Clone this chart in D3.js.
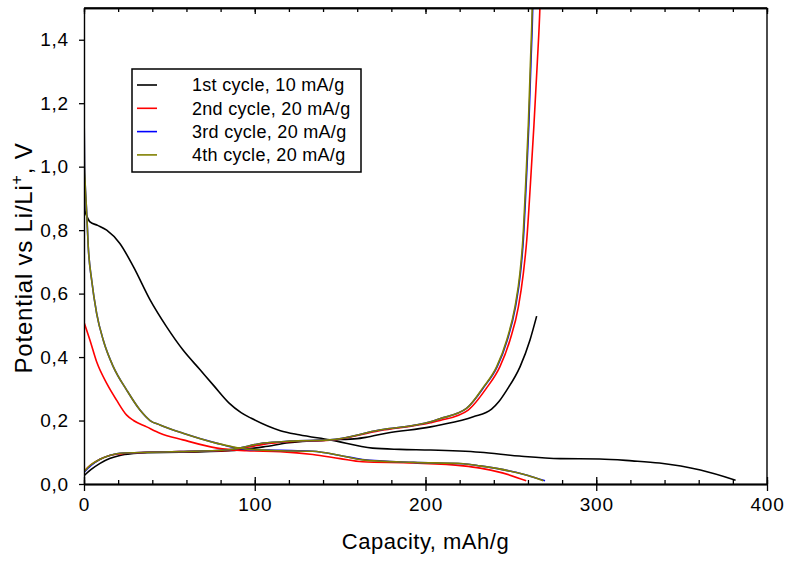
<!DOCTYPE html>
<html>
<head>
<meta charset="utf-8">
<script src="https://cdn.jsdelivr.net/npm/d3@7"></script>
<style>
  body { margin: 0; background: #fff; }
  text { font-family: Arial, "Liberation Sans", sans-serif; fill: #000; }
</style>
</head>
<body>
<svg id="chart" width="788" height="561"></svg>
<script>
// capacity (mAh/g), potential (V)
const cycle1Discharge = [[0,0.93],[0.6,0.86],[1.6,0.845],[3.5,0.826],[8,0.815],[13.3,0.8],[21,0.758],[29,0.684],[38.7,0.58],[48.4,0.495],[58,0.422],[68,0.36],[76,0.31],[85,0.255],[92,0.225],[98,0.207],[115,0.168],[126,0.155],[144,0.139],[169,0.113],[185,0.109],[203,0.107],[232,0.1],[255,0.088],[279,0.08],[302,0.079],[321,0.073],[337,0.066],[361,0.044],[381.6,0.012]];
const cycle1Charge = [[0,0.026],[4,0.045],[9.4,0.065],[15,0.08],[21,0.09],[29,0.096],[37,0.099],[56,0.1],[85,0.105],[105,0.117],[120,0.13],[144,0.139],[160,0.143],[165,0.147],[177,0.16],[203,0.18],[208.5,0.186],[228,0.212],[238.7,0.236],[243,0.26],[247.6,0.296],[255.4,0.37],[261.2,0.454],[265.1,0.529]];

const cycle2Discharge = [[0,0.51],[3.5,0.453],[7.4,0.385],[13.3,0.317],[19,0.265],[25,0.217],[29,0.2],[36.7,0.18],[44.5,0.16],[58,0.139],[78,0.113],[95,0.105],[115,0.102],[134,0.093],[150,0.08],[163,0.07],[193,0.066],[222,0.057],[232,0.05],[245,0.035],[259,0.01]];
const cycle2Charge = [[0,0.04],[4,0.06],[9.4,0.078],[15,0.09],[21,0.095],[37,0.1],[56,0.102],[85,0.106],[105,0.125],[120,0.133],[144,0.138],[173,0.168],[203,0.193],[208.5,0.2],[225,0.233],[235.7,0.302],[243.6,0.37],[249.5,0.454],[254.4,0.558],[257.3,0.664],[259.3,0.769],[261.5,0.95],[263.5,1.13],[265.5,1.33],[267,1.5],[267.3,1.55]];

const cycle3Discharge = [[0,1.21],[0.3,1.0],[0.6,0.955],[1.6,0.853],[2.5,0.747],[4.5,0.642],[7.4,0.538],[11.3,0.453],[17.2,0.369],[25,0.296],[32.8,0.233],[38.7,0.2],[44.5,0.186],[58,0.16],[78,0.128],[87,0.116],[95,0.109],[115,0.106],[134,0.103],[150,0.09],[163,0.077],[193,0.068],[222,0.064],[232,0.057],[250,0.04],[260,0.027],[270,0.01]];
const cycle3Charge = [[0,0.037],[4,0.058],[9.4,0.078],[15,0.09],[21,0.097],[37,0.1],[56,0.102],[85,0.108],[105,0.129],[120.6,0.135],[144,0.139],[173,0.17],[203,0.196],[208,0.205],[224,0.238],[234.3,0.306],[242,0.37],[247.9,0.454],[252.7,0.558],[255.6,0.664],[257.3,0.769],[259,0.95],[260.5,1.13],[261.7,1.32],[262.8,1.5],[263,1.55]];

const cycle4Discharge = [[0,1.21],[0.3,1.0],[0.6,0.957],[1.6,0.853],[2.5,0.747],[4.5,0.642],[7.4,0.538],[11.3,0.453],[17.2,0.369],[25,0.296],[32.8,0.233],[38.7,0.2],[44.5,0.186],[58,0.16],[78,0.128],[87,0.117],[95,0.11],[115,0.105],[134,0.103],[150,0.09],[163,0.076],[193,0.068],[222,0.064],[232,0.057],[250,0.04],[260,0.027],[269,0.01]];
const cycle4Charge = [[0,0.039],[4,0.06],[9.4,0.078],[15,0.09],[21,0.097],[37,0.1],[56,0.102],[85,0.108],[105,0.129],[120.6,0.135],[144,0.139],[173,0.17],[203,0.196],[208,0.205],[224,0.238],[234,0.306],[241.7,0.37],[247.6,0.454],[252.4,0.558],[255.3,0.664],[257,0.769],[258.7,0.95],[260.2,1.13],[261.4,1.32],[262.5,1.5],[262.7,1.55]];

const seriesNames = ["1st cycle, 10 mA/g", "2nd cycle, 20 mA/g", "3rd cycle, 20 mA/g", "4th cycle, 20 mA/g"];
const seriesColors = ["#000000", "#ff0000", "#0000ff", "#808000"];
const seriesCurves = [
  [cycle1Discharge, cycle1Charge],
  [cycle2Discharge, cycle2Charge],
  [cycle3Discharge, cycle3Charge],
  [cycle4Discharge, cycle4Charge]
];
const xTicks = [0, 100, 200, 300, 400];
const yTicks = [0, 0.2, 0.4, 0.6, 0.8, 1.0, 1.2, 1.4];

const svg = d3.select("#chart");
const plotLeft = 84, plotRight = 767, plotTop = 8, plotBottom = 484;

const x = d3.scaleLinear().domain([0, 400]).range([plotLeft, plotRight]);
const y = d3.scaleLinear().domain([0, 1.5]).range([plotBottom, plotTop]);
const minorX = d3.range(0, 401, 20);

svg.append("clipPath").attr("id", "plot-clip")
  .append("rect").attr("x", plotLeft).attr("y", plotTop)
  .attr("width", plotRight - plotLeft).attr("height", plotBottom - plotTop);

// curves
const line = d3.line().x(d => x(d[0])).y(d => y(d[1])).curve(d3.curveMonotoneX);
const curves = svg.append("g").attr("clip-path", "url(#plot-clip)");
seriesCurves.forEach((pair, i) => {
  pair.forEach(data => {
    curves.append("path")
      .datum(data)
      .attr("d", line)
      .attr("fill", "none")
      .attr("stroke", seriesColors[i])
      .attr("stroke-width", 1.6)
      .attr("stroke-linejoin", "round");
  });
});

// frame
svg.append("line").attr("x1", plotLeft).attr("x2", plotRight).attr("y1", plotTop).attr("y2", plotTop)
  .attr("stroke", "#000").attr("stroke-width", 1.4);
svg.append("line").attr("x1", plotRight).attr("x2", plotRight).attr("y1", plotTop).attr("y2", plotBottom)
  .attr("stroke", "#000").attr("stroke-width", 1.4);

function styleAxis(g) {
  g.select(".domain").attr("stroke-width", 1.4);
  g.selectAll(".tick line").attr("stroke-width", 1.3);
}

function styleLabels(g) {
  g.selectAll("text")
    .attr("font-size", 19)
    .attr("letter-spacing", 0.8)
    .attr("font-family", "Arial, 'Liberation Sans', sans-serif");
}

// bottom axis: minor inside, major both sides
svg.append("g").attr("transform", `translate(0,${plotBottom})`)
  .call(d3.axisBottom(x).tickValues(minorX).tickSize(-4).tickSizeOuter(0).tickFormat(""))
  .call(styleAxis);
svg.append("g").attr("transform", `translate(0,${plotBottom})`)
  .call(d3.axisBottom(x).tickValues(xTicks).tickSize(-7).tickSizeOuter(0).tickFormat(""))
  .call(styleAxis);
svg.append("g").attr("transform", `translate(0,${plotBottom})`)
  .call(d3.axisBottom(x).tickValues(xTicks).tickSize(7).tickSizeOuter(0).tickPadding(7).tickFormat(d3.format("d")))
  .call(styleAxis)
  .call(styleLabels);

// top axis ticks inside
svg.append("g").attr("transform", `translate(0,${plotTop})`)
  .call(d3.axisTop(x).tickValues(minorX).tickSize(-4).tickSizeOuter(0).tickFormat(""))
  .call(styleAxis);
svg.append("g").attr("transform", `translate(0,${plotTop})`)
  .call(d3.axisTop(x).tickValues(xTicks).tickSize(-6).tickSizeOuter(0).tickFormat(""))
  .call(styleAxis);

// left axis
svg.append("g").attr("transform", `translate(${plotLeft},0)`)
  .call(d3.axisLeft(y).tickValues(yTicks).tickSize(5).tickSizeOuter(0).tickPadding(10)
    .tickFormat(d => d3.format(".1f")(d).replace(".", ",")))
  .call(styleAxis)
  .call(styleLabels);

// axis titles
svg.append("text")
  .attr("x", (plotLeft + plotRight) / 2).attr("y", 549)
  .attr("text-anchor", "middle").attr("font-size", 22).attr("letter-spacing", 0.5)
  .text("Capacity, mAh/g");

const yTitle = svg.append("text")
  .attr("transform", "translate(32,258) rotate(-90)")
  .attr("text-anchor", "middle").attr("font-size", 24).attr("letter-spacing", 0.8);
yTitle.append("tspan").text("Potential vs Li/Li");
yTitle.append("tspan").attr("font-size", 16).attr("dy", -10).text("+");
yTitle.append("tspan").attr("dy", 10).text(", V");

// legend
const legend = svg.append("g");
legend.append("rect").attr("x", 132).attr("y", 69).attr("width", 229).attr("height", 103)
  .attr("fill", "#fff").attr("stroke", "#000").attr("stroke-width", 1.5);
seriesNames.forEach((name, i) => {
  const ly = 85 + i * 23.3;
  legend.append("line").attr("x1", 137).attr("x2", 157).attr("y1", ly).attr("y2", ly)
    .attr("stroke", seriesColors[i]).attr("stroke-width", 1.6);
  legend.append("text").attr("x", 192).attr("y", ly).attr("dy", "0.35em")
    .attr("font-size", 18).attr("letter-spacing", 0.3).text(name);
});
</script>
</body>
</html>
